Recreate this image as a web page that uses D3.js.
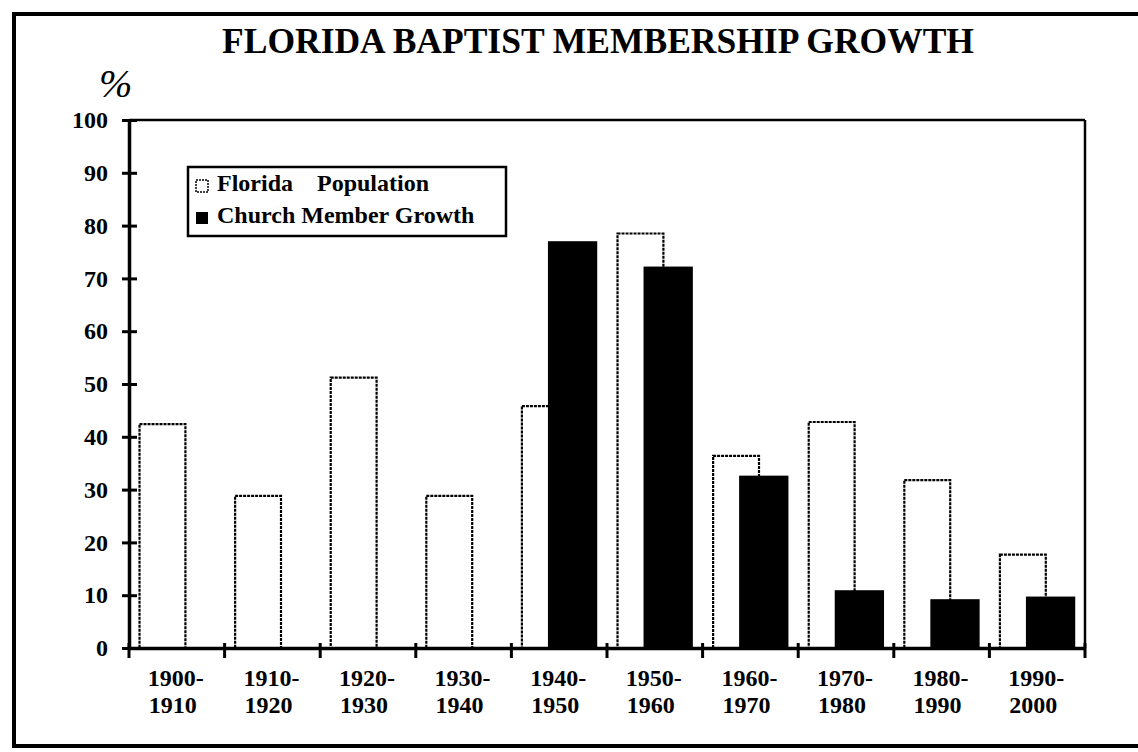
<!DOCTYPE html>
<html><head><meta charset="utf-8">
<script src="https://cdn.jsdelivr.net/npm/d3@7"></script>
<style>body{margin:0;background:#fff}svg{display:block}
svg text{font-family:'Liberation Serif','Times New Roman',Tinos,'DejaVu Serif',serif !important;font-weight:bold;fill:#000}</style>
</head><body>
<script>
const categories = ["1900-1910","1910-1920","1920-1930","1930-1940","1940-1950","1950-1960","1960-1970","1970-1980","1980-1990","1990-2000"];
const floridaPopulation = [42.4, 28.8, 51.2, 28.8, 45.8, 78.5, 36.4, 42.8, 31.8, 17.7];
const churchGrowth = [null, null, null, null, 76.9, 72.1, 32.5, 10.8, 9.1, 9.6];
const yTicks = [0,10,20,30,40,50,60,70,80,90,100];
const seriesNames = ["Florida    Population", "Church Member Growth"];
const title = "FLORIDA BAPTIST MEMBERSHIP GROWTH";

const W = 1138, H = 752;
const svg = d3.select("body").append("svg").attr("width", W).attr("height", H);

// outer frame
svg.append("rect").attr("x",14).attr("y",14).attr("width",1160).attr("height",732)
  .attr("fill","none").attr("stroke","#000").attr("stroke-width",4);

const L = 129, R = 1085, T = 120, B = 648;
const x = d3.scaleBand().domain(categories).range([L, R]).padding(0);
const y = d3.scaleLinear().domain([0,100]).range([B, T]);
const bw = x.bandwidth();

svg.append("text").attr("x",598).attr("y",53).attr("text-anchor","middle")
  .attr("font-size",35.5).text(title);
svg.append("text").attr("x",99).attr("y",97).attr("font-size",40)
  .style("font-style","italic").style("font-weight","normal").text("%");

// plot frame top & right
svg.append("line").attr("x1",L).attr("x2",R).attr("y1",T).attr("y2",T).attr("stroke","#000").attr("stroke-width",2.5);
svg.append("line").attr("x1",R).attr("x2",R).attr("y1",T).attr("y2",B).attr("stroke","#000").attr("stroke-width",2.5);

// bars
svg.append("g").selectAll("rect").data(categories).join("rect")
  .attr("x", d => x(d) + bw*0.11)
  .attr("width", bw*0.48)
  .attr("y", (d,i) => y(floridaPopulation[i]))
  .attr("height", (d,i) => B - y(floridaPopulation[i]))
  .attr("fill","#fff").attr("stroke","#000").attr("stroke-width",2.2).attr("stroke-dasharray","3,1");
svg.append("g").selectAll("rect").data(categories.filter((d,i)=>churchGrowth[i]!=null)).join("rect")
  .attr("x", d => x(d) + bw*0.39)
  .attr("width", bw*0.5)
  .attr("y", d => y(churchGrowth[categories.indexOf(d)]))
  .attr("height", d => B - y(churchGrowth[categories.indexOf(d)]))
  .attr("fill","#000").attr("stroke","#000").attr("stroke-width",1.5);

// y axis
const yAx = svg.append("g").attr("transform",`translate(${L},0)`)
  .call(d3.axisLeft(y).tickValues(yTicks).tickSize(0).tickPadding(21));
yAx.attr("font-family", null);
yAx.select(".domain").attr("stroke","#000").attr("stroke-width",3.5);
yAx.selectAll("text").attr("font-size",24).attr("dy","0.32em");
yAx.selectAll(".tick").append("line").attr("x1",-7).attr("x2",8).attr("stroke","#000").attr("stroke-width",3);

// x axis
const xAx = svg.append("g").attr("transform",`translate(0,${B})`)
  .call(d3.axisBottom(x).tickSize(0).tickFormat(""));
xAx.attr("font-family", null);
xAx.select(".domain").attr("stroke","#000").attr("stroke-width",3.5);
const bounds = categories.map(d => x(d)).concat([R]);
xAx.append("g").selectAll("line").data(bounds).join("line")
  .attr("x1",d=>d).attr("x2",d=>d).attr("y1",-5).attr("y2",10).attr("stroke","#000").attr("stroke-width",3);
const lab = xAx.append("g").selectAll("text").data(categories).join("text")
  .attr("text-anchor","middle").attr("font-size",24).attr("fill","#000");
lab.append("tspan").attr("x", d => x(d)+bw/2 - 1).attr("y",38).text(d => d.split("-")[0] + "-");
lab.append("tspan").attr("x", d => x(d)+bw/2 - 4).attr("y",65).text(d => d.split("-")[1]);

// legend
const lg = svg.append("g");
lg.append("rect").attr("x",188).attr("y",167).attr("width",318).attr("height",69)
  .attr("fill","#fff").attr("stroke","#000").attr("stroke-width",2.5);
lg.append("rect").attr("x",196).attr("y",180).attr("width",12).attr("height",12)
  .attr("fill","#fff").attr("stroke","#000").attr("stroke-width",1.5).attr("stroke-dasharray","2,1");
lg.append("rect").attr("x",196).attr("y",212).attr("width",12).attr("height",12)
  .attr("fill","#000");
lg.append("text").attr("x",217).attr("y",191).attr("font-size",24).style("white-space","pre").text(seriesNames[0]);
lg.append("text").attr("x",217).attr("y",223).attr("font-size",24).text(seriesNames[1]);
</script>
</body></html>
